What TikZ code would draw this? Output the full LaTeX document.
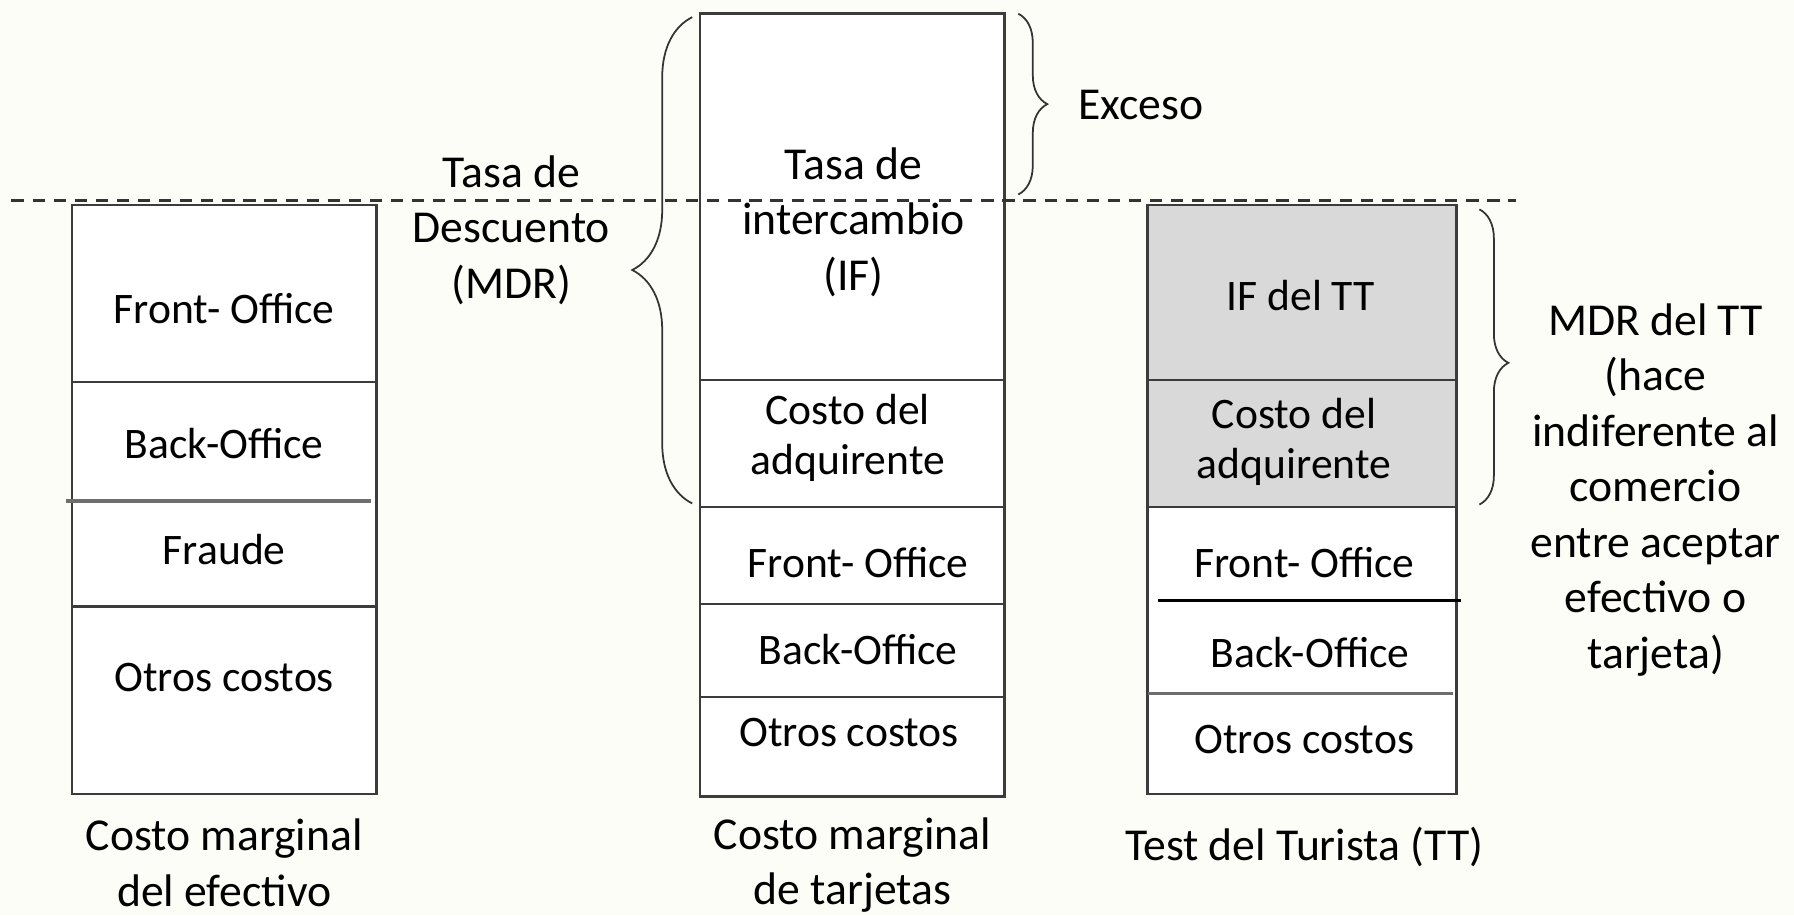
\documentclass[tikz,border=0pt]{standalone}
\usepackage{fontspec}
\setmainfont{Carlito}
\usetikzlibrary{decorations.pathreplacing}
\definecolor{bgcream}{RGB}{253,253,248}
\definecolor{ttgray}{RGB}{217,217,217}
\definecolor{boxline}{RGB}{60,60,60}
\definecolor{softline}{RGB}{110,110,110}
\begin{document}
\begin{tikzpicture}[x=0.011441cm,y=-0.011441cm]
    \tikzstyle{every node}+=[inner sep=0pt, align=center, font=\fontsize{13}{15.8}\selectfont]
    \tikzstyle{celltext}=[font=\fontsize{12.4}{14.2}\selectfont]
    \tikzstyle{frame}=[draw=boxline, line width=0.7pt]
    \tikzstyle{brace}=[draw=black!80, line width=0.5pt, decorate]
    \fill [bgcream] (0,0) rectangle (1568,800);
    \useasboundingbox (0,0) rectangle (1568,800);
    \fill [white] (63,179) rectangle (329,694);
    \draw [frame] (63,179) rectangle (329,694);
    \draw [frame] (63,334) -- (329,334);
    \draw [frame, softline, line width=1pt] (58,438) -- (324,438);
    \draw [frame] (63,530) -- (329,530);
    \node [celltext] (effront) at (196,270) {Front- Office};
    \node [celltext] (efback) at (196,388) {Back-Office};
    \node [celltext] (effraude) at (196,480) {Fraude};
    \node [celltext] (efotros) at (196,592) {Otros costos};
    \node (efcap) at (196,754) {Costo marginal\\del efectivo};
    \fill [white] (612,12) rectangle (878,696);
    \draw [frame] (612,12) rectangle (878,696);
    \draw [frame] (612,332) -- (878,332);
    \draw [frame] (612,443) -- (878,443);
    \draw [frame] (612,528) -- (878,528);
    \draw [frame] (612,609) -- (878,609);
    \node [celltext, font=\fontsize{13}{15.8}\selectfont] (tjif) at (746,194) {Tasa de\\intercambio\\(IF)};
    \node [celltext] (tjadq) at (741,383) {Costo del\\adquirente};
    \node [celltext] (tjfront) at (750,492) {Front- Office};
    \node [celltext] (tjback) at (750,568) {Back-Office};
    \node [celltext] (tjotros) at (742,640) {Otros costos};
    \node (tjcap) at (745,756) {Costo marginal\\de tarjetas};
    \fill [white] (1003,179) rectangle (1273,694);
    \fill [ttgray] (1003,179) rectangle (1273,443);
    \draw [frame] (1003,179) rectangle (1273,694);
    \draw [frame] (1003,332) -- (1273,332);
    \draw [frame] (1003,443) -- (1273,443);
    \draw [frame, black] (1012,525) -- (1277,525);
    \draw [frame, softline, line width=1pt] (1003,606) -- (1270,606);
    \node [celltext] (ttif) at (1137,258) {IF del TT};
    \node [celltext] (ttadq) at (1131,386) {Costo del\\adquirente};
    \node [celltext] (ttfront) at (1140,492) {Front- Office};
    \node [celltext] (ttback) at (1145,570) {Back-Office};
    \node [celltext] (ttotros) at (1140,646) {Otros costos};
    \node (ttcap) at (1140,740) {Test del Turista (TT)};
    \draw [black!80, line width=0.8pt, dash pattern=on 3.5pt off 2.5pt] (10,175) -- (1325,175);
    \draw [brace, decoration={brace, amplitude=0.6cm, aspect=0.48}] (605,440) -- (605,15);
    \node (mdr) at (447,201) {Tasa de\\Descuento\\(MDR)};
    \draw [brace, decoration={brace, amplitude=0.29cm}] (890,12) -- (890,170);
    \node [anchor=west] (exceso) at (942,92) {Exceso};
    \draw [brace, decoration={brace, amplitude=0.29cm, aspect=0.52}] (1293,183) -- (1293,441);
    \node (mdrtt) at (1447,428) {MDR del TT\\(hace\\indiferente al\\comercio\\entre aceptar\\efectivo o\\tarjeta)};
\end{tikzpicture}
\end{document}
